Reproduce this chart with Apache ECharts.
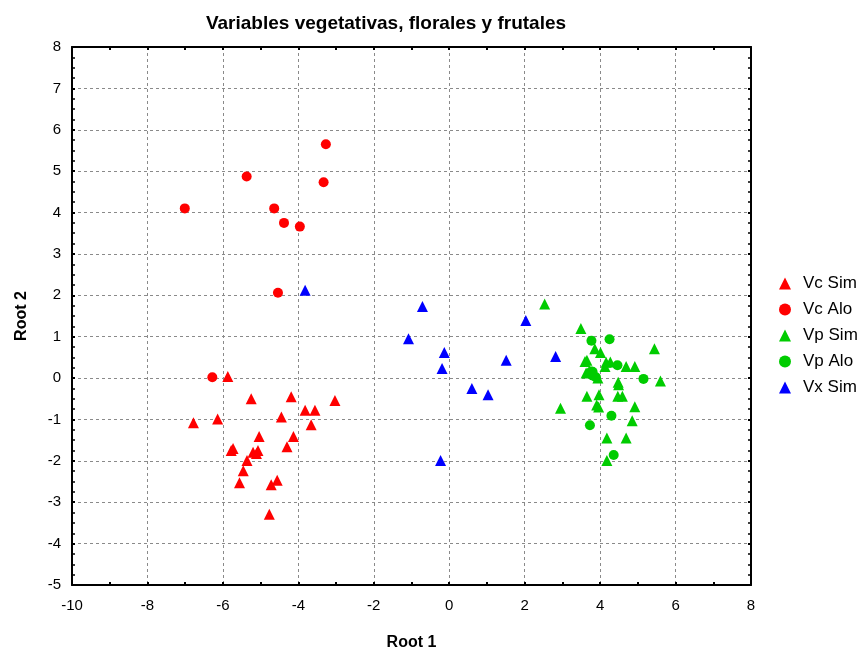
<!DOCTYPE html>
<html><head><meta charset="utf-8">
<script src="https://cdn.jsdelivr.net/npm/echarts@6/dist/echarts.min.js"></script>
<style>html,body{margin:0;padding:0;background:#fff}#c{width:868px;height:652px}</style>
</head><body><div id="c"></div>
<script>
const titleText = "Variables vegetativas, florales y frutales";
const xName = "Root 1", yName = "Root 2";
const seriesNames = ["Vc Sim", "Vc Alo", "Vp Sim", "Vp Alo", "Vx Sim"];

const vcSim = [[-5.87,0.04],[-5.25,-0.50],[-4.19,-0.45],[-3.03,-0.54],[-3.82,-0.78],[-3.56,-0.78],[-4.45,-0.94],[-6.14,-0.99],[-6.78,-1.08],[-3.66,-1.13],[-5.04,-1.41],[-4.13,-1.41],[-4.30,-1.66],[-5.73,-1.70],[-5.78,-1.75],[-5.07,-1.75],[-5.20,-1.79],[-5.11,-1.82],[-5.36,-1.99],[-5.46,-2.24],[-5.56,-2.53],[-4.56,-2.47],[-4.72,-2.58],[-4.77,-3.29]];
const vcAlo = [[-3.27,5.65],[-5.37,4.87],[-3.33,4.73],[-7.01,4.10],[-4.64,4.10],[-4.38,3.75],[-3.96,3.66],[-4.54,2.06],[-6.28,0.02]];
const vpSim = [[2.53,1.79],[3.49,1.20],[5.44,0.71],[3.86,0.71],[4.01,0.62],[3.65,0.43],[4.16,0.38],[4.27,0.39],[4.13,0.28],[4.69,0.28],[4.92,0.28],[3.63,0.12],[3.94,0.0],[5.60,-0.07],[4.49,-0.16],[3.65,-0.44],[3.97,-0.40],[4.47,-0.44],[4.59,-0.44],[3.91,-0.65],[3.96,-0.70],[4.92,-0.69],[2.95,-0.73],[4.85,-1.03],[4.18,-1.45],[4.69,-1.45],[4.18,-1.99],[3.60,0.40],[4.48,-0.10]];
const vpAlo = [[3.77,0.90],[4.25,0.94],[4.46,0.31],[3.76,0.16],[3.81,0.06],[3.89,0.02],[5.15,-0.02],[4.30,-0.91],[3.73,-1.14],[4.36,-1.86],[3.80,0.15]];
const vxSim = [[-3.82,2.12],[-0.71,1.73],[2.03,1.39],[-1.08,0.95],[-0.13,0.62],[2.82,0.52],[1.51,0.43],[-0.19,0.23],[0.60,-0.25],[1.03,-0.40],[-0.23,-1.99]];

const colors = ["#ff0000", "#ff0000", "#00cc00", "#00cc00", "#0000ff"];
const symbols = ["triangle", "circle", "triangle", "circle", "triangle"];
const datasets = [vcSim, vcAlo, vpSim, vpAlo, vxSim];

const chart = echarts.init(document.getElementById('c'), null, {renderer: 'canvas'});
const font = "'Liberation Sans', Arial, sans-serif";
const gridLine = {show: true, lineStyle: {color: '#8a8a8a', type: [3, 3], width: 1}};
const baseX = {
  type: 'value', min: -10, max: 8, interval: 2,
  axisLine: {show: true, onZero: false, lineStyle: {color: '#000', width: 2}},
  axisTick: {show: true, inside: true, length: 3, lineStyle: {color: '#000', width: 2}},
  minorTick: {show: true, splitNumber: 2, length: 3, lineStyle: {color: '#000', width: 2}},
};
const baseY = {
  type: 'value', min: -5, max: 8, interval: 1,
  axisLine: {show: true, onZero: false, lineStyle: {color: '#000', width: 2}},
  axisTick: {show: true, inside: true, length: 3, lineStyle: {color: '#000', width: 2}},
  minorTick: {show: true, splitNumber: 4, length: 3, lineStyle: {color: '#000', width: 1.5}},
};
chart.setOption({
  animation: false,
  backgroundColor: '#fff',
  title: {text: titleText, left: 381, top: 9, textAlign: 'center',
    textStyle: {fontFamily: font, fontSize: 19, fontWeight: 'bold', color: '#000'}},
  grid: {left: 72, right: 117, top: 47, bottom: 67, show: false, containLabel: false, outerBoundsMode: 'none'},
  legend: {
    orient: 'vertical', left: 774, top: 270, itemWidth: 12, itemHeight: 12, itemGap: 9,
    data: seriesNames,
    textStyle: {fontFamily: font, fontSize: 17, color: '#000', padding: [0,0,0,7]}
  },
  xAxis: [
    Object.assign({}, baseX, {position: 'bottom', name: xName, nameLocation: 'middle', nameGap: 50,
      nameTextStyle: {fontFamily: font, fontSize: 16, fontWeight: 'bold', color: '#000'},
      axisLabel: {fontFamily: font, fontSize: 15, color: '#000', margin: 13},
      splitLine: gridLine}),
    Object.assign({}, baseX, {position: 'top', axisLabel: {show: false}, splitLine: {show: false}})
  ],
  yAxis: [
    Object.assign({}, baseY, {position: 'left', name: yName, nameLocation: 'middle', nameGap: 42,
      nameTextStyle: {fontFamily: font, fontSize: 16, fontWeight: 'bold', color: '#000'},
      axisLabel: {fontFamily: font, fontSize: 15, color: '#000', margin: 11},
      splitLine: gridLine}),
    Object.assign({}, baseY, {position: 'right', axisLabel: {show: false}, splitLine: {show: false}})
  ],
  series: seriesNames.map((n, i) => ({
    name: n, type: 'scatter', data: datasets[i], symbol: symbols[i],
    symbolSize: symbols[i] === 'circle' ? 10 : 11,
    itemStyle: {color: colors[i], opacity: 1}
  }))
});
</script></body></html>
